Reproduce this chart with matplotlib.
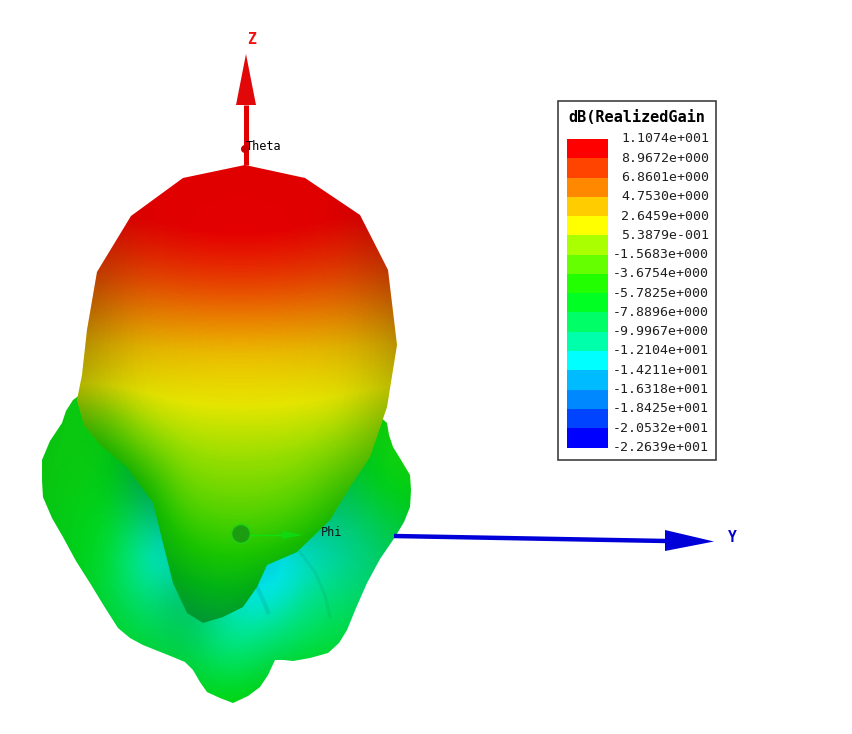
import numpy as np
import matplotlib
matplotlib.use("Agg")
import matplotlib.pyplot as plt
from matplotlib.colors import LinearSegmentedColormap
from matplotlib.patches import Polygon, Circle, Rectangle

W, H = 852, 734
MONO = "DejaVu Sans Mono"

legend_title = "dB(RealizedGain"
legend_labels = ["1.1074e+001", "8.9672e+000", "6.8601e+000", "4.7530e+000",
                 "2.6459e+000", "5.3879e-001", "-1.5683e+000", "-3.6754e+000",
                 "-5.7825e+000", "-7.8896e+000", "-9.9967e+000", "-1.2104e+001",
                 "-1.4211e+001", "-1.6318e+001", "-1.8425e+001", "-2.0532e+001",
                 "-2.2639e+001"]
band_colors = ["#ff0000", "#ff4400", "#ff8800", "#ffcc00", "#ffff00", "#aaff00",
               "#66ff00", "#22ff00", "#00ff22", "#00ff66", "#00ffaa", "#00ffff",
               "#00bbff", "#0088ff", "#0044ff", "#0000ff"]
gain_max, gain_min = 11.074, -22.639

# silhouette of the front lobe (picture position)
body_x = [245, 183, 131, 97, 87, 82, 77, 84, 100, 127, 153, 163, 173, 187, 203, 223,
          243, 257, 267, 297, 330, 350, 370, 387, 397, 388, 360, 305]
body_y = [165, 178, 216, 272, 330, 375, 400, 425, 445, 467, 503, 543, 583, 613, 623, 617,
          607, 587, 565, 552, 520, 487, 457, 407, 345, 270, 215, 178]
# silhouette of the rear lobes
back_x = [100, 73, 66, 62, 50, 42, 42, 43, 52, 63, 76, 90, 104, 118, 130, 143, 158, 173, 185,
          193, 200, 207, 220, 233, 248, 260, 268, 275, 284, 293, 310, 328, 339, 347, 356, 367,
          380, 395, 404, 410, 411, 410, 401, 393, 389, 387, 340]
back_y = [380, 400, 411, 423, 441, 460, 480, 497, 518, 537, 561, 583, 606, 628, 638, 645, 651,
          657, 662, 670, 682, 692, 698, 703, 696, 687, 675, 660, 660, 661, 658, 653, 643, 630,
          608, 583, 559, 537, 522, 507, 490, 475, 460, 447, 435, 423, 380]

body_col = [60, 100, 140, 180, 220, 260, 300, 340, 380, 420]
body_row = [160, 200, 240, 280, 320, 360, 400, 440, 480, 520, 560, 600, 640]
body_gain = [
    [11.0, 11.0, 11.0, 11.0, 11.0, 11.0, 11.0, 11.0, 11.0, 11.0],
    [10.4, 10.4, 10.5, 10.8, 11.0, 11.0, 10.8, 10.5, 10.4, 10.4],
    [9.0, 9.0, 9.2, 9.6, 9.8, 9.8, 9.6, 9.2, 9.0, 9.0],
    [7.2, 7.2, 7.4, 7.8, 8.0, 8.0, 7.8, 7.4, 7.2, 7.2],
    [5.0, 5.0, 5.2, 5.4, 5.6, 5.6, 5.4, 5.2, 5.0, 5.0],
    [2.9, 2.9, 3.0, 3.2, 3.3, 3.3, 3.2, 3.0, 2.9, 2.9],
    [0.9, 0.7, 1.3, 1.7, 1.8, 1.8, 1.7, 1.5, 0.9, 0.9],
    [-4.5, -4.5, -1.0, 0.0, 0.3, 0.3, 0.1, -0.3, -1.2, -1.2],
    [-7.0, -7.0, -5.0, -1.6, -1.1, -1.1, -1.5, -2.8, -4.0, -4.0],
    [-7.5, -7.5, -7.0, -3.6, -2.9, -2.9, -3.6, -5.0, -6.0, -6.0],
    [-8.0, -8.0, -7.5, -5.6, -4.9, -5.0, -5.8, -7.0, -8.0, -8.0],
    [-9.0, -9.0, -9.0, -8.0, -7.2, -7.5, -8.3, -9.0, -9.0, -9.0],
    [-9.5, -9.5, -9.5, -9.5, -9.0, -9.0, -9.5, -9.5, -9.5, -9.5],
]
body_dark = [
    [0.12, 0.12, 0.12, 0.12, 0.12, 0.12, 0.12, 0.12, 0.12, 0.12],
    [0.25, 0.20, 0.13, 0.12, 0.12, 0.12, 0.12, 0.13, 0.25, 0.25],
    [0.32, 0.24, 0.15, 0.12, 0.10, 0.10, 0.12, 0.14, 0.24, 0.32],
    [0.35, 0.26, 0.13, 0.11, 0.10, 0.10, 0.11, 0.13, 0.24, 0.35],
    [0.35, 0.25, 0.12, 0.10, 0.08, 0.08, 0.10, 0.12, 0.22, 0.35],
    [0.35, 0.24, 0.12, 0.10, 0.08, 0.08, 0.10, 0.12, 0.22, 0.35],
    [0.35, 0.25, 0.13, 0.10, 0.10, 0.10, 0.10, 0.12, 0.24, 0.35],
    [0.40, 0.30, 0.18, 0.12, 0.12, 0.12, 0.12, 0.16, 0.28, 0.40],
    [0.45, 0.40, 0.32, 0.16, 0.15, 0.15, 0.16, 0.24, 0.32, 0.45],
    [0.50, 0.45, 0.35, 0.20, 0.18, 0.18, 0.20, 0.30, 0.40, 0.50],
    [0.50, 0.45, 0.40, 0.28, 0.22, 0.24, 0.32, 0.40, 0.45, 0.50],
    [0.50, 0.45, 0.45, 0.38, 0.30, 0.38, 0.45, 0.45, 0.45, 0.50],
    [0.50, 0.50, 0.50, 0.50, 0.45, 0.50, 0.50, 0.50, 0.50, 0.50],
]

back_col = [30, 70, 110, 150, 190, 230, 270, 310, 350, 390, 430]
back_row = [400, 440, 480, 520, 560, 600, 640, 680, 720]
back_gain = [
    [-6.0, -6.0, -6.0, -7.0, -7.0, -7.0, -7.0, -7.0, -6.0, -5.5, -5.0],
    [-6.0, -6.0, -6.0, -8.0, -8.0, -8.0, -8.0, -8.0, -7.0, -5.5, -5.0],
    [-6.0, -6.0, -6.5, -9.5, -10.0, -10.0, -10.0, -10.0, -8.0, -6.0, -6.0],
    [-6.5, -6.5, -7.0, -11.0, -12.0, -12.0, -12.0, -11.5, -10.5, -8.0, -7.0],
    [-6.5, -6.5, -7.5, -13.0, -12.5, -13.0, -14.5, -12.5, -11.5, -9.5, -8.0],
    [-7.0, -7.0, -8.0, -10.5, -9.5, -12.5, -13.5, -10.5, -9.5, -9.0, -8.0],
    [-7.0, -7.0, -7.0, -8.5, -9.0, -11.0, -10.0, -8.5, -8.0, -8.0, -8.0],
    [-6.5, -6.5, -6.5, -7.0, -7.5, -8.0, -7.0, -6.5, -6.5, -6.5, -6.5],
    [-5.5, -5.5, -5.5, -5.5, -5.5, -5.5, -5.5, -5.5, -5.5, -5.5, -5.5],
]
back_dark = [
    [0.25, 0.22, 0.22, 0.30, 0.30, 0.30, 0.30, 0.30, 0.25, 0.20, 0.20],
    [0.25, 0.22, 0.22, 0.38, 0.35, 0.30, 0.30, 0.30, 0.25, 0.18, 0.20],
    [0.25, 0.20, 0.20, 0.42, 0.35, 0.30, 0.30, 0.30, 0.25, 0.17, 0.20],
    [0.25, 0.20, 0.15, 0.22, 0.35, 0.30, 0.30, 0.25, 0.22, 0.20, 0.25],
    [0.25, 0.20, 0.13, 0.06, 0.20, 0.22, 0.08, 0.14, 0.18, 0.20, 0.25],
    [0.25, 0.22, 0.16, 0.12, 0.30, 0.10, 0.10, 0.12, 0.14, 0.20, 0.25],
    [0.25, 0.22, 0.18, 0.16, 0.20, 0.07, 0.12, 0.12, 0.16, 0.20, 0.25],
    [0.25, 0.22, 0.18, 0.18, 0.18, 0.12, 0.20, 0.18, 0.18, 0.20, 0.25],
    [0.25, 0.22, 0.20, 0.20, 0.20, 0.18, 0.20, 0.20, 0.20, 0.20, 0.25],
]

# rear-lobe creases
crease_a_x = [300, 315, 325, 330]
crease_a_y = [552, 572, 595, 617]
crease_b_x = [257, 263, 268]
crease_b_y = [587, 600, 612]

# pattern-axis furniture
z_shaft_x, z_shaft_y = [245.5, 245.5], [165, 105]
z_head_x, z_head_y = [246, 236, 256], [54, 105, 105]
y_shaft_x, y_shaft_y = [394, 666], [536, 541]
y_head_x, y_head_y = [714, 665, 665], [541.5, 530, 551]
phi_shaft_x, phi_shaft_y = [250, 285], [535, 535]
phi_head_x, phi_head_y = [303, 282, 282], [535, 531, 539]
origin_xy = (241, 534)
theta_dot_xy = (245, 149)

n = len(band_colors)
rev = band_colors[::-1]
stops = [(0.0, rev[0])] + [((i + 0.5) / n, c) for i, c in enumerate(rev)] + [(1.0, rev[-1])]
cmap = LinearSegmentedColormap.from_list("gain", stops, N=512)
dark_cmap = LinearSegmentedColormap.from_list("dark", [(0, 0, 0, 0), (0, 0, 0, 1)], N=256)

fig = plt.figure(figsize=(W / 100, H / 100), dpi=100)
ax = fig.add_axes([0, 0, 1, 1])
ax.set_axis_off()


def lobe(xs, ys, gain, dark, sx, sy, z):
    poly = Polygon(np.column_stack([sx, sy]), closed=True, fc="none", ec="none",
                   transform=ax.transData)
    ax.add_patch(poly)
    dx, dy = xs[1] - xs[0], ys[1] - ys[0]
    ext = (xs[0] - dx / 2, xs[-1] + dx / 2, ys[-1] + dy / 2, ys[0] - dy / 2)
    im0 = ax.imshow(np.asarray(gain), cmap=cmap, vmin=gain_min, vmax=gain_max, extent=ext,
                    aspect="auto", interpolation="bicubic", origin="upper", zorder=z)
    im1 = ax.imshow(np.asarray(dark), cmap=dark_cmap, vmin=0, vmax=1, extent=ext,
                    aspect="auto", interpolation="bicubic", origin="upper", zorder=z + 0.1)
    im0.set_clip_path(poly)
    im1.set_clip_path(poly)


lobe(back_col, back_row, back_gain, back_dark, back_x, back_y, 1)
ax.plot(crease_a_x, crease_a_y, color="#007a50", lw=2.0, alpha=0.12, zorder=1.5)
ax.plot(crease_b_x, crease_b_y, color="#006a60", lw=3.0, alpha=0.14, zorder=1.5)
lobe(body_col, body_row, body_gain, body_dark, body_x, body_y, 2)

# Z axis
ax.plot(z_shaft_x, z_shaft_y, color="#e00000", lw=3.6, solid_capstyle="butt", zorder=3)
ax.add_patch(Polygon(np.column_stack([z_head_x, z_head_y]), fc="#e00808", ec="none", zorder=3))
ax.add_patch(Circle(theta_dot_xy, 4, fc="#c80000", ec="none", zorder=3))
ax.text(251, 39, "Z", color="#f01010", family=MONO, fontsize=10.5, weight="bold",
        ha="center", va="center", zorder=5)
ax.text(246, 146, "Theta", color="black", family=MONO, fontsize=8.6, ha="left", va="center", zorder=5)

# Y axis
ax.plot(y_shaft_x, y_shaft_y, color="#0000d8", lw=3.2, solid_capstyle="butt", zorder=3)
ax.add_patch(Polygon(np.column_stack([y_head_x, y_head_y]), fc="#0000d8", ec="none", zorder=3))
ax.text(732, 538, "Y", color="#0000d0", family=MONO, fontsize=10.5, weight="bold",
        ha="center", va="center", zorder=5)

# Phi marker
ax.add_patch(Circle(origin_xy, 9.5, fc="#1c9c10", ec="#22d010", lw=1.2, zorder=3))
ax.plot(phi_shaft_x, phi_shaft_y, color="#10e010", lw=1.0, zorder=3)
ax.add_patch(Polygon(np.column_stack([phi_head_x, phi_head_y]), fc="#10d810", ec="none", zorder=3))
ax.text(321, 532, "Phi", color="#101818", family=MONO, fontsize=8.6, ha="left", va="center", zorder=5)

# Legend
ax.add_patch(Rectangle((557.5, 100.5), 158, 359.5, fc="white", ec="#303030", lw=1.1, zorder=6))
ax.text(636.5, 117.5, legend_title, color="black", family=MONO, weight="bold", fontsize=11,
        ha="center", va="center", zorder=7)
band_top, band_h = 139.0, 19.27
for i, c in enumerate(band_colors):
    ax.bar(587, band_h + 0.3, width=41, bottom=band_top + i * band_h, color=c, lw=0, zorder=7)
for i, t in enumerate(legend_labels):
    ax.text(709, band_top + i * band_h, t, color="#202020", family=MONO, fontsize=9.5,
            ha="right", va="center", zorder=7)

ax.set_xlim(0, W)
ax.set_ylim(H, 0)
fig.savefig("out.png", dpi=100, facecolor="white")
